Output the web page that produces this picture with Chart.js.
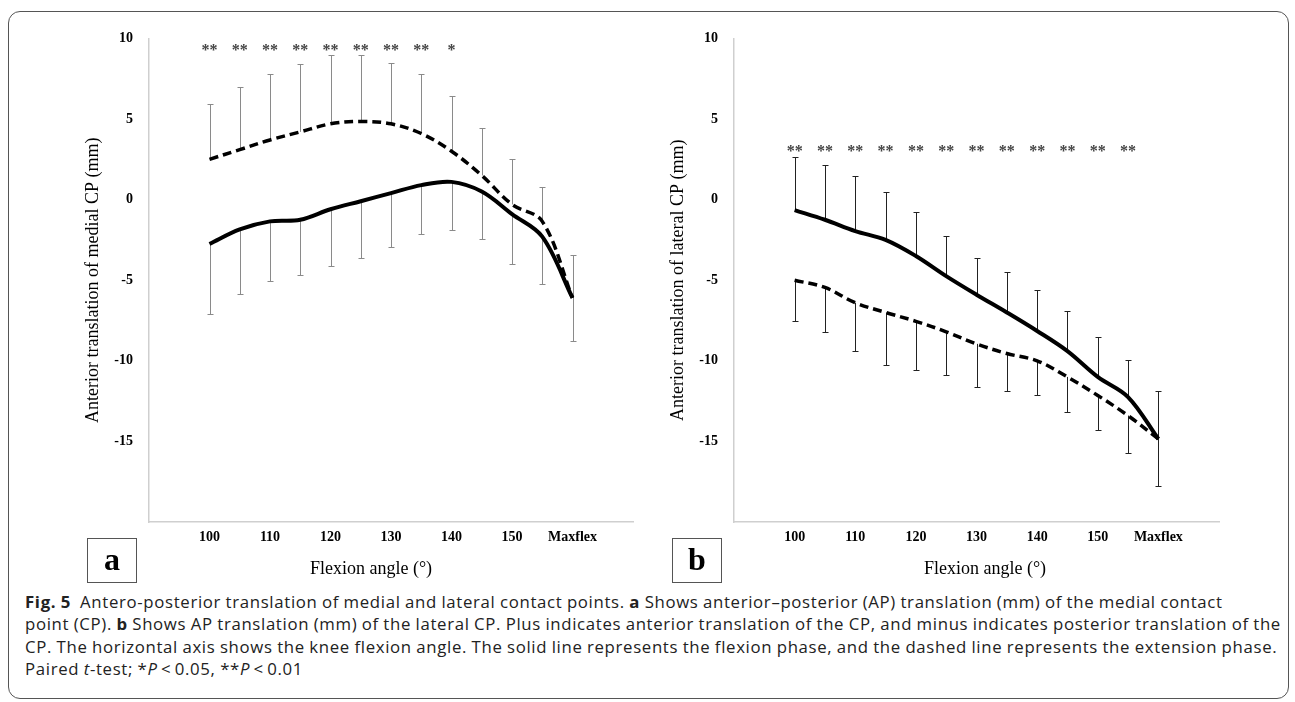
<!DOCTYPE html>
<html>
<head>
<meta charset="utf-8">
<script src="https://cdn.jsdelivr.net/npm/chart.js@4.4.1/dist/chart.umd.min.js"></script>
<style>
body { margin: 0; background: #fff; }
#page { position: relative; width: 1295px; height: 702px; overflow: hidden; }
#frame { position: absolute; left: 8px; top: 11px; width: 1281px; height: 688px; border: 1.5px solid #555; border-radius: 12px; box-sizing: border-box; }
canvas { position: absolute; }
.tag { position: absolute; top: 538px; width: 50px; height: 45px; border: 1.5px solid #555; box-sizing: border-box; font: bold 32px "Liberation Serif"; text-align: center; line-height: 40px; }
.xt { position: absolute; top: 558px; font: 18px "Liberation Serif"; transform: translateX(-50%); white-space: nowrap; }
#caption { position: absolute; left: 25px; top: 591px; font: 16.8px "Open Sans"; letter-spacing: 0.66px; word-spacing: -0.5px; line-height: 22.3px; white-space: nowrap; color: #222; }
</style>
</head>
<body>
<div id="page">
  <div id="frame"></div>
  <canvas id="medialChart" width="630" height="574" style="left:10px;top:14px"></canvas>
  <canvas id="lateralChart" width="600" height="574" style="left:650px;top:14px"></canvas>
  <div class="tag" style="left:87px">a</div>
  <div class="tag" style="left:672px">b</div>
  <div class="xt" style="left:371px">Flexion angle (°)</div>
  <div class="xt" style="left:985px">Flexion angle (°)</div>
  <div id="caption"><b>Fig. 5</b>&nbsp; Antero-posterior translation of medial and lateral contact points. <b>a</b> Shows anterior–posterior (AP) translation (mm) of the medial contact<br>point (CP). <b>b</b> Shows AP translation (mm) of the lateral CP. Plus indicates anterior translation of the CP, and minus indicates posterior translation of the<br>CP. The horizontal axis shows the knee flexion angle. The solid line represents the flexion phase, and the dashed line represents the extension phase.<br>Paired <i>t</i>-test; *<i>P</i>&thinsp;&lt;&thinsp;0.05, **<i>P</i>&thinsp;&lt;&thinsp;0.01</div>
</div>
<script>
// flexion angles (deg), last one is max flexion
const angles = ['100', '105', '110', '115', '120', '125', '130', '135', '140', '145', '150', '155', 'Maxflex']
const yTicks = [10, 5, 0, -5, -10, -15]

// (a) medial CP, mm
const medialFlexion = [-2.75, -1.85, -1.35, -1.25, -0.6, -0.1, 0.4, 0.9, 1.1, 0.5, -0.9, -2.3, -6.1]
const medialFlexionSD = [4.35, 4.0, 3.7, 3.45, 3.55, 3.55, 3.35, 3.05, 3.0, 2.95, 3.1, 2.95, 2.65]
const medialExtension = [2.5, 3.1, 3.7, 4.2, 4.7, 4.85, 4.7, 4.1, 3.0, 1.5, -0.3, -1.35, -6.1]
const medialExtensionSD = [3.4, 3.9, 4.1, 4.2, 4.25, 4.1, 3.8, 3.7, 3.45, 2.95, 2.8, 2.15, 2.65]
const medialStars = ['**', '**', '**', '**', '**', '**', '**', '**', '*', '', '', '', '']

// (b) lateral CP, mm
const lateralFlexion = [-0.65, -1.25, -1.95, -2.5, -3.5, -4.75, -5.9, -7.0, -8.15, -9.4, -11.0, -12.25, -14.85]
const lateralFlexionSD = [3.3, 3.4, 3.4, 2.95, 2.75, 2.5, 2.3, 2.5, 2.55, 2.5, 2.5, 2.3, 2.95]
const lateralExtension = [-5.0, -5.45, -6.4, -7.0, -7.55, -8.2, -8.95, -9.55, -10.0, -11.0, -12.15, -13.4, -14.85]
const lateralExtensionSD = [2.55, 2.75, 3.0, 3.25, 3.05, 2.7, 2.65, 2.35, 2.15, 2.15, 2.15, 2.3, 2.9]
const lateralStars = ['**', '**', '**', '**', '**', '**', '**', '**', '**', '**', '**', '**', '']

const serif = 'Liberation Serif'

// error bars, one direction per series (sdSign +1 up, -1 down)
const errorBars = {
  id: 'errorBars',
  beforeDatasetsDraw(chart, args, opts) {
    const ctx = chart.ctx
    const x = chart.scales.x, y = chart.scales.y
    ctx.save()
    ctx.strokeStyle = opts.color
    ctx.lineWidth = opts.width
    chart.data.datasets.forEach((ds) => {
      ds.sd.forEach((s, i) => {
        const v = ds.data[i].y
        const px = Math.round(x.getPixelForValue(i)) + 0.5
        const y0 = y.getPixelForValue(v)
        const y1 = Math.round(y.getPixelForValue(v + ds.sdSign * s)) + 0.5
        ctx.beginPath()
        ctx.moveTo(px, y0)
        ctx.lineTo(px, y1)
        ctx.moveTo(px - 3, y1)
        ctx.lineTo(px + 3, y1)
        ctx.stroke()
      })
    })
    ctx.restore()
  }
}

const stars = {
  id: 'stars',
  afterDraw(chart, args, opts) {
    const ctx = chart.ctx
    const x = chart.scales.x, y = chart.scales.y
    ctx.save()
    ctx.fillStyle = '#444'
    ctx.font = 'bold 16px "' + serif + '"'
    ctx.textAlign = 'center'
    ctx.textBaseline = 'middle'
    opts.marks.forEach((m, i) => {
      if (m) ctx.fillText(m, x.getPixelForValue(i), y.getPixelForValue(opts.level) + 2)
    })
    ctx.restore()
  }
}

function points(values) {
  return values.map((v, i) => ({ x: i, y: v }))
}

function makeChart(id, cfg) {
  const ctx = document.getElementById(id).getContext('2d')
  return new Chart(ctx, {
    type: 'line',
    data: {
      datasets: [{
        label: 'Flexion phase',
        data: points(cfg.flexion),
        sd: cfg.flexionSD,
        sdSign: cfg.flexionSign,
        borderColor: '#000',
        borderWidth: 4,
        tension: 0.35,
        pointRadius: 0
      }, {
        label: 'Extension phase',
        data: points(cfg.extension),
        sd: cfg.extensionSD,
        sdSign: -cfg.flexionSign,
        borderColor: '#000',
        borderWidth: 3.5,
        borderDash: [9, 5],
        tension: 0.35,
        pointRadius: 0
      }]
    },
    options: {
      responsive: false,
      animation: false,
      devicePixelRatio: 1,
      layout: { padding: { top: cfg.padTop, right: cfg.padRight, left: 0, bottom: 0 } },
      plugins: {
        legend: { display: false },
        tooltip: { enabled: false },
        errorBars: { color: cfg.barColor, width: 1 },
        stars: { marks: cfg.stars, level: cfg.starLevel }
      },
      scales: {
        x: {
          type: 'linear',
          min: -2,
          max: 14,
          grid: { display: false, drawTicks: false },
          border: { display: true, color: '#cfcfcf', width: 1.5 },
          afterFit: (scale) => { scale.height = 66 },
          ticks: {
            stepSize: 2,
            autoSkip: false,
            maxRotation: 0,
            padding: 7,
            color: '#000',
            font: { family: serif, size: 14, weight: 'bold' },
            callback: (v) => angles[v] || ''
          }
        },
        y: {
          min: -20,
          max: 10,
          grid: { display: false, drawTicks: false },
          border: { display: true, color: '#cfcfcf', width: 1.5 },
          afterFit: (scale) => { scale.width = cfg.axisWidth },
          afterBuildTicks: (scale) => { scale.ticks = yTicks.map((v) => ({ value: v })) },
          ticks: {
            padding: 16,
            color: '#000',
            font: { family: serif, size: 14, weight: 'bold' },
            callback: (v) => String(v)
          },
          title: {
            display: true,
            text: cfg.title,
            color: '#000',
            font: { family: serif, size: 18 },
            padding: { top: cfg.titlePad, bottom: 0 }
          }
        }
      }
    },
    plugins: [errorBars, stars]
  })
}

makeChart('medialChart', {
  flexion: medialFlexion, flexionSD: medialFlexionSD, flexionSign: -1,
  extension: medialExtension, extensionSD: medialExtensionSD,
  stars: medialStars, starLevel: 9.35,
  title: 'Anterior translation of medial CP (mm)',
  barColor: '#8a8a8a',
  padTop: 19, padRight: 7, axisWidth: 139, titlePad: 72
})

makeChart('lateralChart', {
  flexion: lateralFlexion, flexionSD: lateralFlexionSD, flexionSign: 1,
  extension: lateralExtension, extensionSD: lateralExtensionSD,
  stars: lateralStars, starLevel: 3.1,
  title: 'Anterior translation of lateral CP (mm)',
  barColor: '#222',
  padTop: 23, padRight: 31, axisWidth: 84, titlePad: 17
})
</script>
</body>
</html>
